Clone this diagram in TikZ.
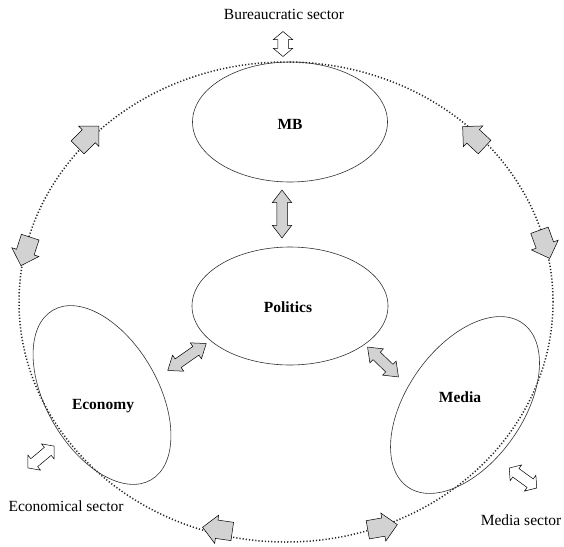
\documentclass[tikz,border=0pt]{standalone}
\usepackage{fontspec}
\setmainfont{Liberation Serif}
\usetikzlibrary{shapes.geometric,shapes.arrows}
\begin{document}
\begin{tikzpicture}[x=1pt,y=-1pt,
  sector/.style={ellipse,draw=black!80,line width=0.6pt,inner sep=0pt,outer sep=0pt},
  ring/.style={ellipse,draw=black!85,line width=1.5pt,dash pattern=on 1.2pt off 2pt,inner sep=0pt,outer sep=0pt},
  lab/.style={font=\fontsize{15.5}{18}\selectfont\bfseries},
  txt/.style={font=\fontsize{15.5}{18}\selectfont},
  flow/.style={single arrow,draw=black,line width=0.5pt,fill=gray!35,inner xsep=0pt,inner ysep=9pt,minimum height=30pt,single arrow head extend=5pt},
  link/.style={double arrow,draw=black,line width=0.5pt,fill=gray!35,inner xsep=0pt,inner ysep=5pt,double arrow head extend=4.5pt,double arrow tip angle=75},
  slink/.style={link,fill=white,double arrow tip angle=100}
]
\useasboundingbox[fill=white] (0,0) rectangle (564,546);
% outer dotted ring
\node[ring,minimum width=534pt,minimum height=480pt] (ring) at (286,302) {};
% sectors
\node[sector,minimum width=195pt,minimum height=120pt] (mb) at (290,122) {};
\node[sector,minimum width=196pt,minimum height=118pt] (pol) at (290,306) {};
\node[sector,minimum width=196pt,minimum height=112pt,rotate=-60] (eco) at (102,395) {};
\node[sector,minimum width=200pt,minimum height=116pt,rotate=55] (med) at (465,405) {};
% labels
\node[lab] (mbl) at (290,124) {MB};
\node[lab] (poll) at (288,307) {Politics};
\node[lab] (ecol) at (103,406) {Economy};
\node[lab] (medl) at (460,397) {Media};
\node[txt] (bs) at (284,14) {Bureaucratic sector};
\node[txt] (es) at (66,506) {Economical sector};
\node[txt] (ms) at (521,520) {Media sector};
% arrows on the ring
\node[flow,rotate=45] (f1) at (85,140) {};
\node[flow,rotate=252] (f2) at (27,247) {};
\node[flow,rotate=137] (f3) at (477,140) {};
\node[flow,rotate=-70] (f4) at (543,240) {};
\node[flow,rotate=172] (f5) at (222,530) {};
\node[flow,rotate=10] (f6) at (378,528) {};
% double arrows
\node[link,rotate=90,minimum height=48pt] (l1) at (282,214) {};
\node[link,rotate=35,minimum height=47pt] (l2) at (187,357) {};
\node[link,rotate=-44,minimum height=43pt] (l3) at (383,362) {};
\node[slink,rotate=90,minimum height=25pt] (l4) at (283,44) {};
\node[slink,rotate=40,minimum height=34pt] (l5) at (41,457) {};
\node[slink,rotate=-36,minimum height=34pt] (l6) at (523,478) {};
\end{tikzpicture}
\end{document}
